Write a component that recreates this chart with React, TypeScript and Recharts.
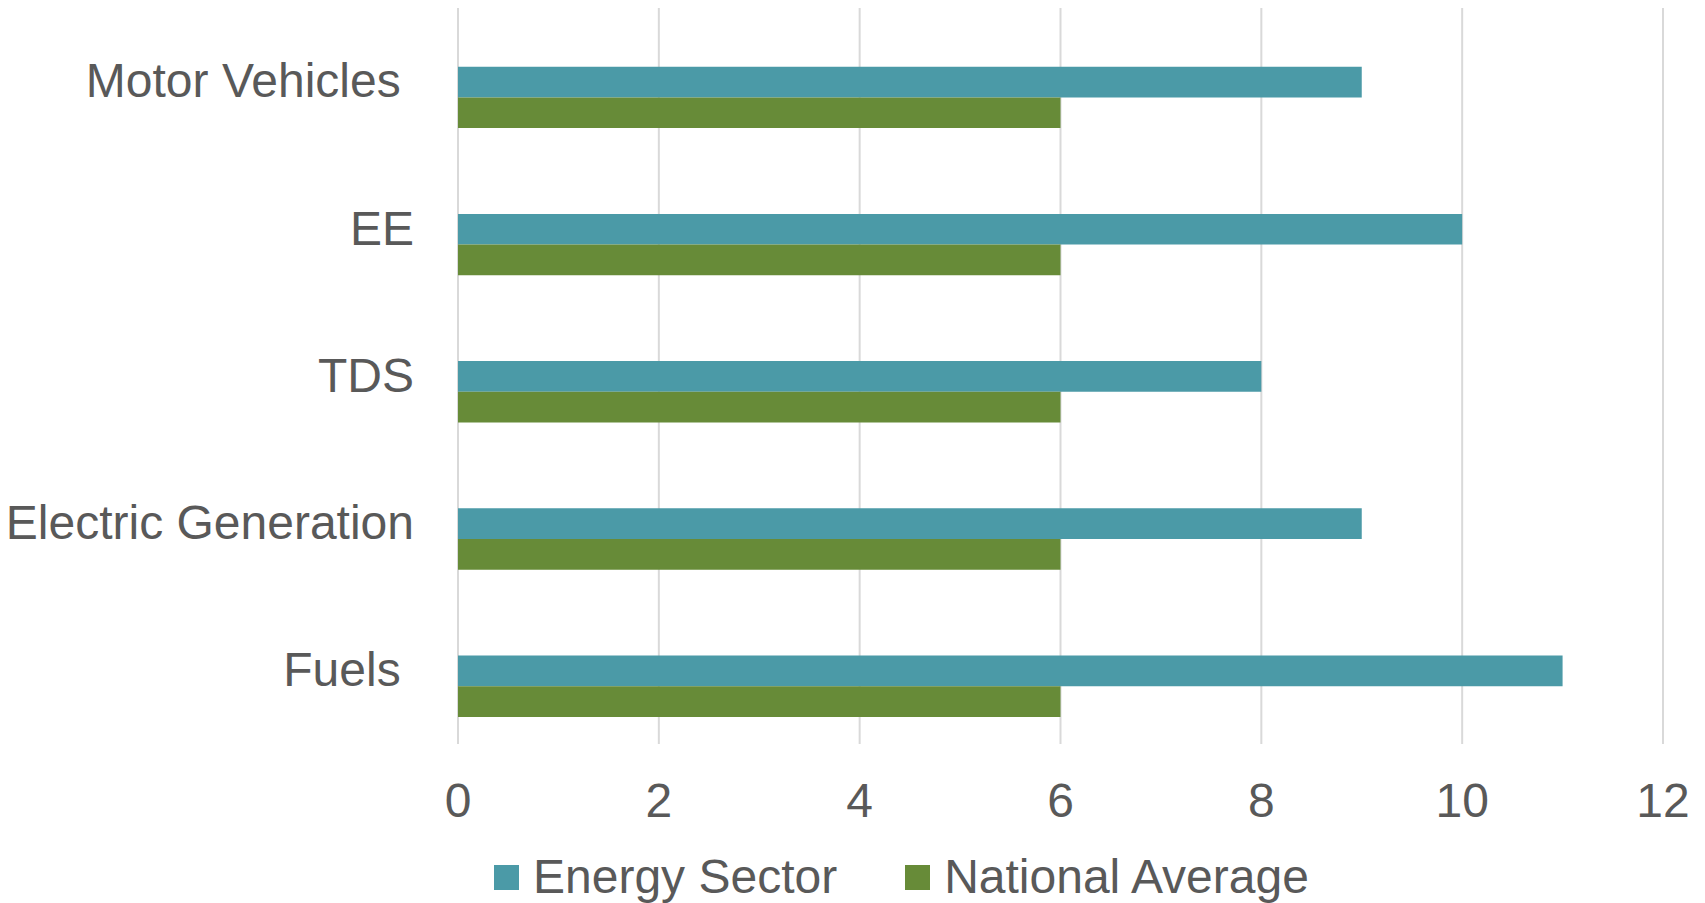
import { BarChart, Bar, XAxis, YAxis, CartesianGrid, Legend } from 'recharts';

const categories = ['Motor Vehicles ', 'EE', 'TDS', 'Electric Generation', 'Fuels '];
const energySector = [9, 10, 8, 9, 11];
const nationalAverage = [6, 6, 6, 6, 6];
const xTicks = [0, 2, 4, 6, 8, 10, 12];

const TEAL = '#4B9AA7';
const GREEN = '#678B38';
const TEXT = '#595959';
const FONT = 'Liberation Sans, Arial, sans-serif';
const FS = 48;

const series = [
  { key: 'energy', name: 'Energy Sector', color: TEAL },
  { key: 'national', name: 'National Average', color: GREEN },
];

const data = categories.map((name, i) => ({
  name,
  energy: energySector[i],
  national: nationalAverage[i],
}));

function CategoryTick({ x, y, payload }: any) {
  return (
    <text
      x={x}
      y={y}
      dy="0.33em"
      textAnchor="end"
      fill={TEXT}
      fontSize={FS}
      fontFamily={FONT}
      xmlSpace="preserve"
      style={{ whiteSpace: 'pre' }}
    >
      {payload.value}
    </text>
  );
}

function LegendContent() {
  return (
    <div style={{ display: 'flex', alignItems: 'center', fontFamily: FONT, fontSize: FS, lineHeight: '48px', color: TEXT, whiteSpace: 'nowrap' }}>
      {series.map((s, i) => (
        <div key={s.key} style={{ display: 'flex', alignItems: 'center', marginRight: i === 0 ? 68 : 0 }}>
          <span style={{ display: 'inline-block', width: 25, height: 25, background: s.color, marginRight: 14 }} />
          <span>{s.name}</span>
        </div>
      ))}
    </div>
  );
}

export default function App() {
  return (
    <div style={{ position: 'absolute', left: 0, top: 0, width: 1705, height: 903, background: '#fff' }}>
      <BarChart
        width={1705}
        height={903}
        data={data}
        layout="vertical"
        margin={{ top: 8, right: 42, bottom: 0, left: 0 }}
        barSize={30.7}
        barGap={0}
      >
        <CartesianGrid horizontal={false} stroke="#D9D9D9" strokeWidth={2} />
        <XAxis
          type="number"
          domain={[0, 12]}
          ticks={xTicks}
          axisLine={false}
          tickLine={false}
          tickSize={0}
          tickMargin={39}
          height={159}
          tick={{ fill: TEXT, fontSize: FS, fontFamily: FONT }}
        />
        <YAxis
          type="category"
          dataKey="name"
          width={458}
          axisLine={false}
          tickLine={false}
          tickSize={0}
          tickMargin={44}
          tick={<CategoryTick />}
          interval={0}
        />
        {/* empty slot series, as in the source chart, pushes the pair down in each band */}
        <Bar dataKey="blank" legendType="none" isAnimationActive={false} />
        {series.map((s) => (
          <Bar key={s.key} dataKey={s.key} name={s.name} fill={s.color} isAnimationActive={false} />
        ))}
        <Legend
          layout="horizontal"
          verticalAlign="middle"
          content={<LegendContent />}
          wrapperStyle={{ left: 494, top: 853, width: 'auto' }}
        />
      </BarChart>
    </div>
  );
}
